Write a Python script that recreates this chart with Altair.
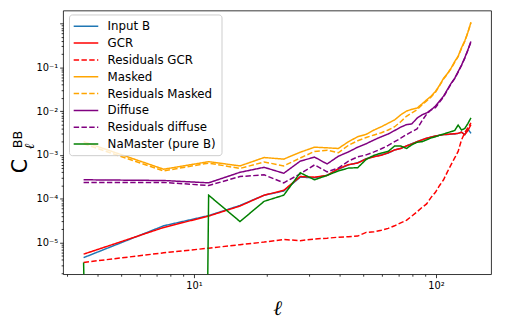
import altair as alt
import pandas as pd

# multipole bins
ell = [3.5, 7.5, 11.5, 15.5, 19.5, 23.5, 27.5, 31.5, 35.5, 39.5, 43.5, 47.5,
       51.5, 55.5, 59.5, 63.5, 67.5, 71.5, 75.5, 79.5, 83.5, 87.5, 91.5, 95.5,
       99.5, 103.5, 107.5, 111.5, 115.5, 119.5, 123.5, 127.5, 131.5, 135.5, 139.5]

input_b = [4.5e-6, 2.4e-5, 4.1e-5, 7.0e-5, 1.2e-4, 1.5e-4, 3.1e-4, 3.0e-4, 3.4e-4,
           4.7e-4, 5.9e-4, 6.6e-4, 8.2e-4, 9.2e-4, 1.0e-3, 1.1e-3, 1.3e-3, 1.4e-3,
           1.6e-3, 1.8e-3, 2.0e-3, 2.2e-3, 2.4e-3, 2.55e-3, 2.7e-3, 2.8e-3, 2.9e-3,
           2.9e-3, 3.0e-3, 3.0e-3, 3.1e-3, 3.3e-3, 2.9e-3, 3.9e-3, 3.1e-3]

gcr = [5.4e-6, 2.2e-5, 4.0e-5, 6.8e-5, 1.2e-4, 1.55e-4, 3.2e-4, 3.1e-4, 3.4e-4,
       4.8e-4, 6.0e-4, 6.5e-4, 8.1e-4, 9.1e-4, 9.8e-4, 1.12e-3, 1.3e-3, 1.4e-3,
       1.6e-3, 1.77e-3, 2.0e-3, 2.2e-3, 2.4e-3, 2.55e-3, 2.7e-3, 2.8e-3, 2.9e-3,
       2.95e-3, 3.0e-3, 3.05e-3, 3.1e-3, 3.3e-3, 2.9e-3, 3.6e-3, 4.9e-3]

res_gcr = [3.5e-6, 5.8e-6, 7.4e-6, 8.9e-6, 1.02e-5, 1.17e-5, 1.1e-5, 1.2e-5, 1.25e-5,
           1.32e-5, 1.35e-5, 1.4e-5, 1.7e-5, 1.75e-5, 1.9e-5, 2.1e-5, 2.4e-5, 2.8e-5,
           3.2e-5, 4.0e-5, 5.0e-5, 6.3e-5, 7.6e-5, 1.07e-4, 1.4e-4, 2.0e-4, 2.7e-4,
           4.1e-4, 6.0e-4, 8.5e-4, 1.2e-3, 2.2e-3, 3.2e-3, 4.2e-3, 5.4e-3]

masked = [2.0e-3, 4.7e-4, 7.0e-4, 5.6e-4, 8.7e-4, 8.0e-4, 1.15e-3, 1.5e-3, 1.45e-3,
          1.4e-3, 2.0e-3, 2.6e-3, 2.95e-3, 3.7e-3, 4.4e-3, 5.3e-3, 6.3e-3, 8.2e-3,
          1.0e-2, 1.1e-2, 1.17e-2, 1.45e-2, 1.8e-2, 2.2e-2, 2.8e-2, 3.9e-2, 5.6e-2,
          7.2e-2, 9.6e-2, 0.135, 0.18, 0.28, 0.40, 0.63, 1.07]

res_masked = [1.8e-3, 4.3e-4, 6.5e-4, 4.9e-4, 6.9e-4, 5.6e-4, 8.5e-4, 1.2e-3, 1.28e-3,
              1.12e-3, 1.65e-3, 2.1e-3, 2.5e-3, 2.85e-3, 3.2e-3, 3.7e-3, 4.4e-3, 5.7e-3,
              7.6e-3, 9.1e-3, 1.07e-2, 1.38e-2, 1.7e-2, 2.1e-2, 2.7e-2, 3.8e-2, 5.4e-2,
              7.0e-2, 9.4e-2, 0.13, 0.175, 0.27, 0.39, 0.62, 1.05]

diffuse = [2.7e-4, 2.6e-4, 2.3e-4, 4.0e-4, 5.2e-4, 3.8e-4, 7.2e-4, 8.9e-4, 6.2e-4,
           9.3e-4, 1.17e-3, 1.5e-3, 1.8e-3, 2.2e-3, 2.6e-3, 3.0e-3, 3.6e-3, 4.3e-3,
           4.9e-3, 5.1e-3, 6.9e-3, 8.2e-3, 9.1e-3, 1.07e-2, 1.3e-2, 1.7e-2, 2.2e-2,
           3.1e-2, 4.3e-2, 5.6e-2, 8.0e-2, 0.112, 0.165, 0.25, 0.39]

res_diffuse = [2.35e-4, 2.35e-4, 2.0e-4, 3.2e-4, 3.5e-4, 2.3e-4, 3.7e-4, 5.9e-4, 4.1e-4,
               5.0e-4, 7.2e-4, 9.0e-4, 1.0e-3, 1.17e-3, 1.38e-3, 1.65e-3, 2.0e-3, 2.4e-3,
               2.9e-3, 3.4e-3, 3.9e-3, 6.0e-3, 8.5e-3, 1.07e-2, 1.2e-2, 1.6e-2, 2.1e-2,
               3.0e-2, 4.2e-2, 5.5e-2, 7.8e-2, 0.11, 0.16, 0.245, 0.38]

# second bin is non-positive in the original (clipped off the log axis)
namaster = [3.5e-6, 1e-100, 1.2e-4, 3.0e-5, 8.7e-5, 1.2e-4, 3.9e-4, 2.7e-4, 3.4e-4,
            4.3e-4, 5.0e-4, 5.1e-4, 7.9e-4, 9.8e-4, 1.1e-3, 1.2e-3, 1.6e-3, 1.6e-3,
            1.4e-3, 1.7e-3, 1.94e-3, 2.0e-3, 2.2e-3, 2.45e-3, 2.6e-3, 2.8e-3, 3.0e-3,
            3.2e-3, 3.4e-3, 3.6e-3, 4.8e-3, 3.7e-3, 4.0e-3, 5.2e-3, 7.0e-3]

series_names = ["Input B", "GCR", "Residuals GCR", "Masked", "Residuals Masked",
                "Diffuse", "Residuals diffuse", "NaMaster (pure B)"]
series_values = [input_b, gcr, res_gcr, masked, res_masked, diffuse, res_diffuse, namaster]
colors = ["#1f77b4", "#ff0000", "#ff0000", "#ffa500", "#ffa500", "#800080", "#800080", "#008000"]
dashes = [[1, 0], [1, 0], [5.5, 2.4], [1, 0], [5.5, 2.4], [1, 0], [5.5, 2.4], [1, 0]]

x_ticks = [3, 4, 5, 6, 7, 8, 9, 10, 20, 30, 40, 50, 60, 70, 80, 90, 100]
y_ticks = []
for e in range(-6, 1):
    for m in range(1, 10):
        v = float(f"{m}e{e}")
        if 1.88e-6 <= v <= 1.98:
            y_ticks.append(v)

rows = []
for order, (name, vals) in enumerate(zip(series_names, series_values)):
    for l, v in zip(ell, vals):
        rows.append({"ell": l, "cl": v, "series": name, "order": order})
df = pd.DataFrame(rows)

major = "abs(log(datum.value)/LN10 - round(log(datum.value)/LN10)) < 1e-6"
ylab = ("(" + major + ") ? ['10⁻⁵','10⁻⁴','10⁻³','10⁻²','10⁻¹',''][round(log(datum.value)/LN10)+5] : ''")
xlab = ("(" + major + ") ? ['','10¹','10²'][round(log(datum.value)/LN10)] : ''")

W, H = 435, 268

lines = alt.Chart(df).mark_line(clip=True, strokeWidth=1.5).encode(
    x=alt.X("ell:Q",
            scale=alt.Scale(type="log", domain=[2.88, 169], nice=False),
            axis=alt.Axis(values=x_ticks, labelExpr=xlab, title="ℓ",
                          titleFontSize=21, titleFontStyle="italic",
                          titleFont="DejaVu Serif", titleFontWeight="normal",
                          titlePadding=7,
                          tickSize={"condition": {"test": major, "value": 3.5}, "value": 2},
                          tickColor="black", tickWidth=0.8, labelPadding=3,
                          labelFontSize=10, labelColor="black", labelFont="DejaVu Sans",
                          grid=False, domain=False, labelFlush=False, labelOverlap=False)),
    y=alt.Y("cl:Q",
            scale=alt.Scale(type="log", domain=[1.88e-6, 1.98], nice=False),
            axis=alt.Axis(values=y_ticks, labelExpr=ylab, title=None,
                          tickSize={"condition": {"test": major, "value": 3.5}, "value": 2},
                          tickColor="black", tickWidth=0.8, labelPadding=2,
                          labelFontSize=10, labelColor="black", labelFont="DejaVu Sans",
                          grid=False, domain=False, labelFlush=False, labelOverlap=False)),
    color=alt.Color("series:N",
                    scale=alt.Scale(domain=series_names, range=colors),
                    legend=alt.Legend(title=None)),
    strokeDash=alt.StrokeDash("series:N",
                              scale=alt.Scale(domain=series_names, range=dashes),
                              legend=alt.Legend(title=None)),
    order=alt.Order("order:Q"),
    detail="series:N",
)

lab = pd.DataFrame({"t": ["C"], "b": ["BB"], "l": ["ℓ"]})
base_t = alt.Chart(lab)
c_txt = base_t.mark_text(angle=270, fontSize=21, font="DejaVu Sans", color="black",
                         align="center", baseline="middle").encode(
    text="t:N", x=alt.value(-43), y=alt.value(158))
bb_txt = base_t.mark_text(angle=270, fontSize=13, font="DejaVu Sans", color="black",
                          align="center", baseline="middle").encode(
    text="b:N", x=alt.value(-46), y=alt.value(131))
l_txt = base_t.mark_text(angle=270, fontSize=14, font="DejaVu Serif", fontStyle="italic",
                         color="black", align="center", baseline="middle").encode(
    text="l:N", x=alt.value(-34), y=alt.value(138))

chart = alt.layer(lines, c_txt, bb_txt, l_txt).properties(
    width=W, height=H,
    autosize=alt.AutoSizeParams(type="none"),
    padding={"left": 56, "top": 0, "right": 7, "bottom": 48},
).configure_view(
    stroke="black", strokeWidth=0.8
).configure_legend(
    orient="none", legendX=6, legendY=4,
    fillColor="rgba(255,255,255,0.8)", strokeColor="#cccccc", cornerRadius=3,
    padding=5, symbolType="M-2,0H2", symbolSize=156, symbolStrokeWidth=1.5,
    symbolOffset=5.25,
    labelFontSize=12, labelFont="DejaVu Sans", labelColor="black",
    labelOffset=15, rowPadding=4.1, labelLimit=300
)

chart.save("out.html", embed_options={"renderer": "svg", "actions": False})
